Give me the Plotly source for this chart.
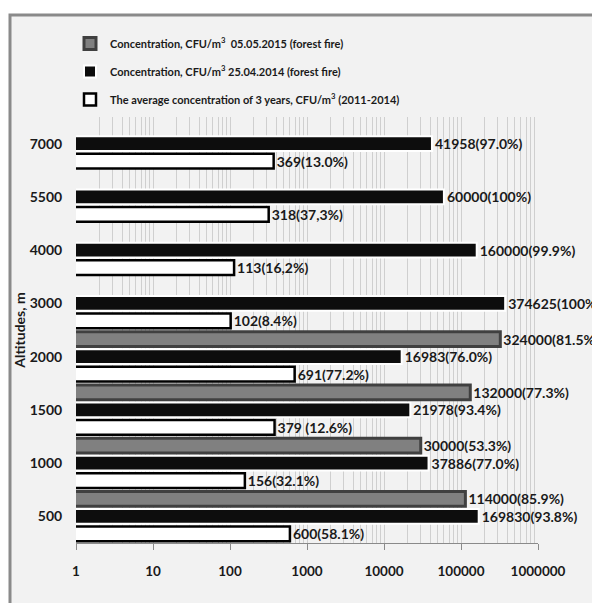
import plotly.graph_objects as go

altitudes = ["500", "1000", "1500", "2000", "3000", "4000", "5500", "7000"]

avg_values = [600, 156, 379, 691, 102, 113, 318, 369]
avg_labels = ["600(58.1%)", "156(32.1%)", "379 (12.6%)", "691(77.2%)", "102(8.4%)",
              "113(16,2%)", "318(37,3%)", "369(13.0%)"]

fire2014_values = [169830, 37886, 21978, 16983, 374625, 160000, 60000, 41958]
fire2014_labels = ["169830(93.8%)", "37886(77.0%)", "21978(93.4%)", "16983(76.0%)",
                   "374625(100%)", "160000(99.9%)", "60000(100%)", "41958(97.0%)"]

fire2015_altitudes = ["500", "1000", "1500", "2000"]
fire2015_values = [114000, 30000, 132000, 324000]
fire2015_labels = ["114000(85.9%)", "30000(53.3%)", "132000(77.3%)", "324000(81.5%)"]

x_major = [1, 10, 100, 1000, 10000, 100000, 1000000]
x_major_text = ["1", "10", "100", "1000", "10000", "100000", "1000000"]
x_minor = [m * d for d in [1, 10, 100, 1000, 10000, 100000] for m in range(2, 10)]

FONT = "Lato, Roboto, sans-serif"
TXT = "#1a1a1a"
label_font = dict(family=FONT, size=14, color=TXT, weight="bold")

fig = go.Figure()

fig.add_trace(go.Bar(
    y=altitudes, x=avg_values, orientation="h",
    name="The average concentration of 3 years, CFU/m<sup>3</sup> (2011-2014)",
    legendgroup="avg", legendrank=3,
    marker=dict(color="#ffffff", line=dict(color="#000000", width=2.5)),
    text=avg_labels, textposition="outside", textfont=label_font,
    cliponaxis=False, constraintext="none",
))
fig.add_trace(go.Bar(
    y=altitudes, x=fire2014_values, orientation="h",
    name="Concentration, CFU/m<sup>3</sup> 25.04.2014 (forest fire)",
    legendgroup="f2014", legendrank=2,
    marker=dict(color="#0d0d0d", line=dict(color="#ffffff", width=2)),
    text=fire2014_labels, textposition="outside", textfont=label_font,
    cliponaxis=False, constraintext="none",
))
fig.add_trace(go.Bar(
    y=fire2015_altitudes, x=fire2015_values, orientation="h",
    name="Concentration, CFU/m<sup>3</sup>  05.05.2015 (forest fire)",
    legendgroup="f2015", legendrank=1,
    marker=dict(color="#808080", line=dict(color="#404040", width=3)),
    text=fire2015_labels, textposition="outside", textfont=label_font,
    cliponaxis=False, constraintext="none",
))

# outer frame
fig.add_shape(type="rect", xref="paper", yref="paper",
              x0=(10 - 76) / 462, x1=1.6, y0=-0.5, y1=(543 - 15) / 426,
              fillcolor="#f2f2f2", line=dict(color="#8a8a8a", width=3), layer="below")

fig.update_layout(
    width=592, height=603,
    margin=dict(l=76, r=54, t=117, b=60),
    paper_bgcolor="#ffffff",
    plot_bgcolor="rgba(0,0,0,0)",
    barmode="group",
    bargap=0.02,
    bargroupgap=0.15,
    showlegend=True,
    legend=dict(
        x=(70 - 76) / 462, xanchor="left",
        y=(543 - 29) / 426, yanchor="top",
        traceorder="grouped", tracegroupgap=9,
        bgcolor="rgba(0,0,0,0)",
        font=dict(family=FONT, size=11, color=TXT, weight="bold"),
    ),
    font=dict(family=FONT, color=TXT),
)

fig.update_xaxes(
    type="log", range=[0, 6],
    tickmode="array", tickvals=x_major, ticktext=x_major_text,
    ticks="outside", ticklen=6, tickcolor="#8a8a8a", tickwidth=1,
    ticklabelstandoff=10,
    tickfont=dict(family=FONT, size=13.5, color=TXT, weight="bold"),
    showline=True, linecolor="#8a8a8a", linewidth=1,
    showgrid=True, gridcolor="#cfcfcf", gridwidth=1,
    minor=dict(tickmode="array", tickvals=x_minor, showgrid=True,
               gridcolor="#cfcfcf", gridwidth=1, ticks=""),
    zeroline=False,
)

fig.update_yaxes(
    type="category", categoryorder="array", categoryarray=altitudes,
    ticks="outside", ticklen=10, tickcolor="rgba(0,0,0,0)",
    tickfont=dict(family=FONT, size=14, color=TXT, weight="bold"),
    showgrid=False, showline=False, zeroline=False,
    title=dict(text="Altitudes, m", font=dict(family=FONT, size=14, color=TXT, weight="bold"),
               standoff=0),
)

fig.write_html("out.html", config={"displayModeBar": False},
               post_script="document.body.style.margin='0';")
